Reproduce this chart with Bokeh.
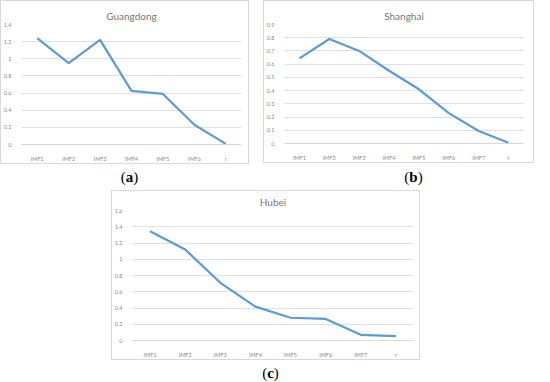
from bokeh.plotting import figure
from bokeh.models import FactorRange, Range1d, FixedTicker, Div, Spacer, NumeralTickFormatter
from bokeh.layouts import row, column
from bokeh.embed import file_html
from bokeh.resources import INLINE

# ---- data ----
gd_cats = ["IMF1", "IMF2", "IMF3", "IMF4", "IMF5", "IMF6", "r"]
gd_vals = [1.24, 0.95, 1.22, 0.625, 0.59, 0.23, 0.007]
gd_yticks = [0, 0.2, 0.4, 0.6, 0.8, 1, 1.2, 1.4]

sh_cats = ["IMF1", "IMF2", "IMF3", "IMF4", "IMF5", "IMF6", "IMF7", "r"]
sh_vals = [0.644, 0.79, 0.70, 0.55, 0.41, 0.23, 0.095, 0.005]
sh_yticks = [0, 0.1, 0.2, 0.3, 0.4, 0.5, 0.6, 0.7, 0.8, 0.9]

hb_cats = ["IMF1", "IMF2", "IMF3", "IMF4", "IMF5", "IMF6", "IMF7", "r"]
hb_vals = [1.344, 1.12, 0.71, 0.417, 0.28, 0.265, 0.07, 0.055]
hb_yticks = [0, 0.2, 0.4, 0.6, 0.8, 1, 1.2, 1.4, 1.6]

LINE = "#5B9BD5"
GRID = "#e0e0e0"
TXT = "#8a8a8a"
TITLE = "#777777"


def panel(title, cats, vals, yticks, w, h, left, right, top, bottom):
    p = figure(width=w, height=h, x_range=FactorRange(factors=cats, range_padding=0),
               y_range=Range1d(0, yticks[-1]), output_backend="svg",
               toolbar_location=None, min_border_left=left, min_border_right=right,
               min_border_top=top, min_border_bottom=bottom, title=title)
    p.line(x=cats, y=vals, line_color=LINE, line_width=2.2)
    p.title.align = "center"
    p.title.text_font = "Lato"
    p.title.text_font_size = "10px"
    p.title.text_font_style = "normal"
    p.title.text_color = TITLE
    p.title.standoff = 6
    p.outline_line_color = None
    p.border_fill_alpha = 0
    p.background_fill_color = None
    p.styles = {"box-shadow": "inset 0 0 0 1px #d9d9d9"}
    p.xgrid.grid_line_color = None
    p.ygrid.grid_line_color = GRID
    p.ygrid.ticker = FixedTicker(ticks=yticks)
    p.yaxis.ticker = FixedTicker(ticks=yticks)
    p.yaxis.formatter = NumeralTickFormatter(format="0.[0]")
    for ax in (p.xaxis[0], p.yaxis[0]):
        ax.major_tick_line_color = None
        ax.minor_tick_line_color = None
        ax.major_label_text_font = "Lato"
        ax.major_label_text_font_size = "5.5px"
        ax.major_label_text_color = TXT
    p.yaxis.axis_line_color = None
    p.yaxis.major_label_standoff = 4
    p.xaxis.axis_line_color = "#d9d9d9"
    p.xaxis.major_label_standoff = 5
    return p


pa = panel("Guangdong", gd_cats, gd_vals, gd_yticks, 249, 164, 16, 8, 23, 16)
pb = panel("Shanghai", sh_cats, sh_vals, sh_yticks, 271, 163, 20, 11, 24, 17)
pc = panel("Hubei", hb_cats, hb_vals, hb_yticks, 309, 170, 18, 7, 19, 15)


def cap(letter, w):
    return Div(text="(<b>%s</b>)" % letter, width=w, height=16,
               styles={"text-align": "center", "font-family": "Liberation Serif",
                       "font-size": "15px", "line-height": "16px", "color": "#000"})


layout = column(
    row(pa, Spacer(width=14), pb),
    row(cap("a", 249), Spacer(width=14), cap("b", 271)),
    row(Spacer(width=111), pc),
    row(Spacer(width=111), cap("c", 309)),
)

open("out.html", "w").write(file_html(layout, INLINE))
